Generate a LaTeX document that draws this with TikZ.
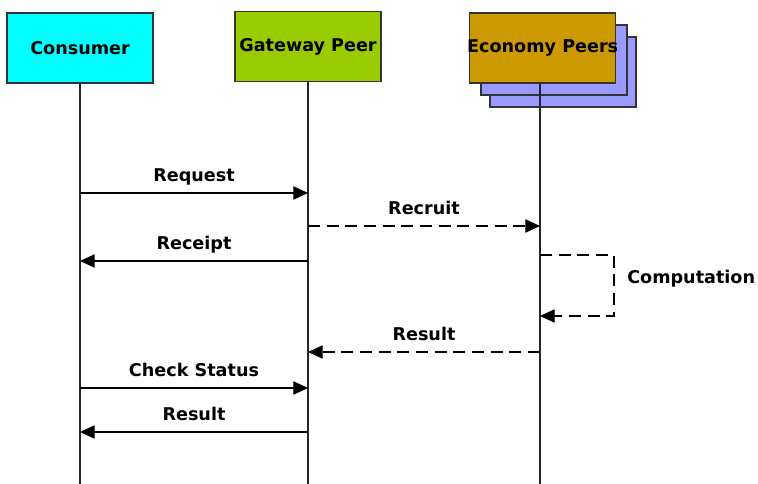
\documentclass[tikz,border=0pt]{standalone}
\usepackage{fontspec}
\setmainfont{DejaVu Sans}
\usetikzlibrary{arrows.meta}
\usetikzlibrary{quotes}
\definecolor{consumercyan}{RGB}{0,255,255}
\definecolor{gatewaygreen}{RGB}{153,204,0}
\definecolor{economygold}{RGB}{204,153,0}
\definecolor{stackblue}{RGB}{153,153,255}
\begin{document}
\begin{tikzpicture}[x=0.75pt,y=-0.75pt,
    msglabel/.style={font=\bfseries\fontsize{13.2}{15}\selectfont},
    every edge quotes/.style={msglabel,above=6.5pt,inner sep=0pt,text height=8pt,text depth=2pt},
    actor/.style={draw=black!80,line width=1pt,minimum width=109.5pt,minimum height=52.5pt,inner sep=0pt,msglabel},
    lifeline/.style={draw=black!85,line width=0.8pt},
    msg/.style={-{Triangle[length=11pt,width=10pt]},line width=0.8pt},
    reply/.style={msg,dash pattern=on 9pt off 5pt}]
    \useasboundingbox (0,0) rectangle (758,484);
    %participants
    \node[actor,fill=consumercyan] (consumer) at (80,48) {Consumer};
    \node[actor,fill=gatewaygreen] (gateway) at (308,46.5) {Gateway Peer};
    \node[actor,fill=stackblue] (stack2) at (563,72) {};
    \node[actor,fill=stackblue] (stack1) at (554,60) {};
    \node[actor,fill=economygold,inner xsep=-4pt,xshift=2pt] (economy) at (540,48) {Economy Peers};
    \coordinate (consumer end) at (80,484);
    \coordinate (gateway end) at (308,484);
    \coordinate (economy end) at (540,484);
    \draw[lifeline] (consumer) -- (consumer end);
    \draw[lifeline] (gateway) -- (gateway end);
    \draw[lifeline] (economy.south -| economy end) -- (economy end);
    %messages
    \coordinate (c1) at (80,193); \coordinate (g1) at (308,193);
    \coordinate (g2) at (308,226); \coordinate (e2) at (540,226);
    \coordinate (c3) at (80,261); \coordinate (g3) at (308,261);
    \coordinate (e4) at (540,255); \coordinate (e5) at (540,316);
    \coordinate (e6) at (540,352); \coordinate (g6) at (308,352);
    \coordinate (c7) at (80,388); \coordinate (g7) at (308,388);
    \coordinate (c8) at (80,432); \coordinate (g8) at (308,432);
    \draw (c1) edge["Request",msg] (g1);
    \draw (g2) edge["Recruit",reply] (e2);
    \draw (g3) edge["Receipt",msg] (c3);
    \draw[reply] (e4) -- ++(74,0) |- (e5);
    \node[msglabel,anchor=west,inner sep=0pt] (computation) at (627,279) {Computation};
    \draw (e6) edge["Result",reply] (g6);
    \draw (c7) edge["Check Status",msg] (g7);
    \draw (g8) edge["Result",msg] (c8);
\end{tikzpicture}
\end{document}
